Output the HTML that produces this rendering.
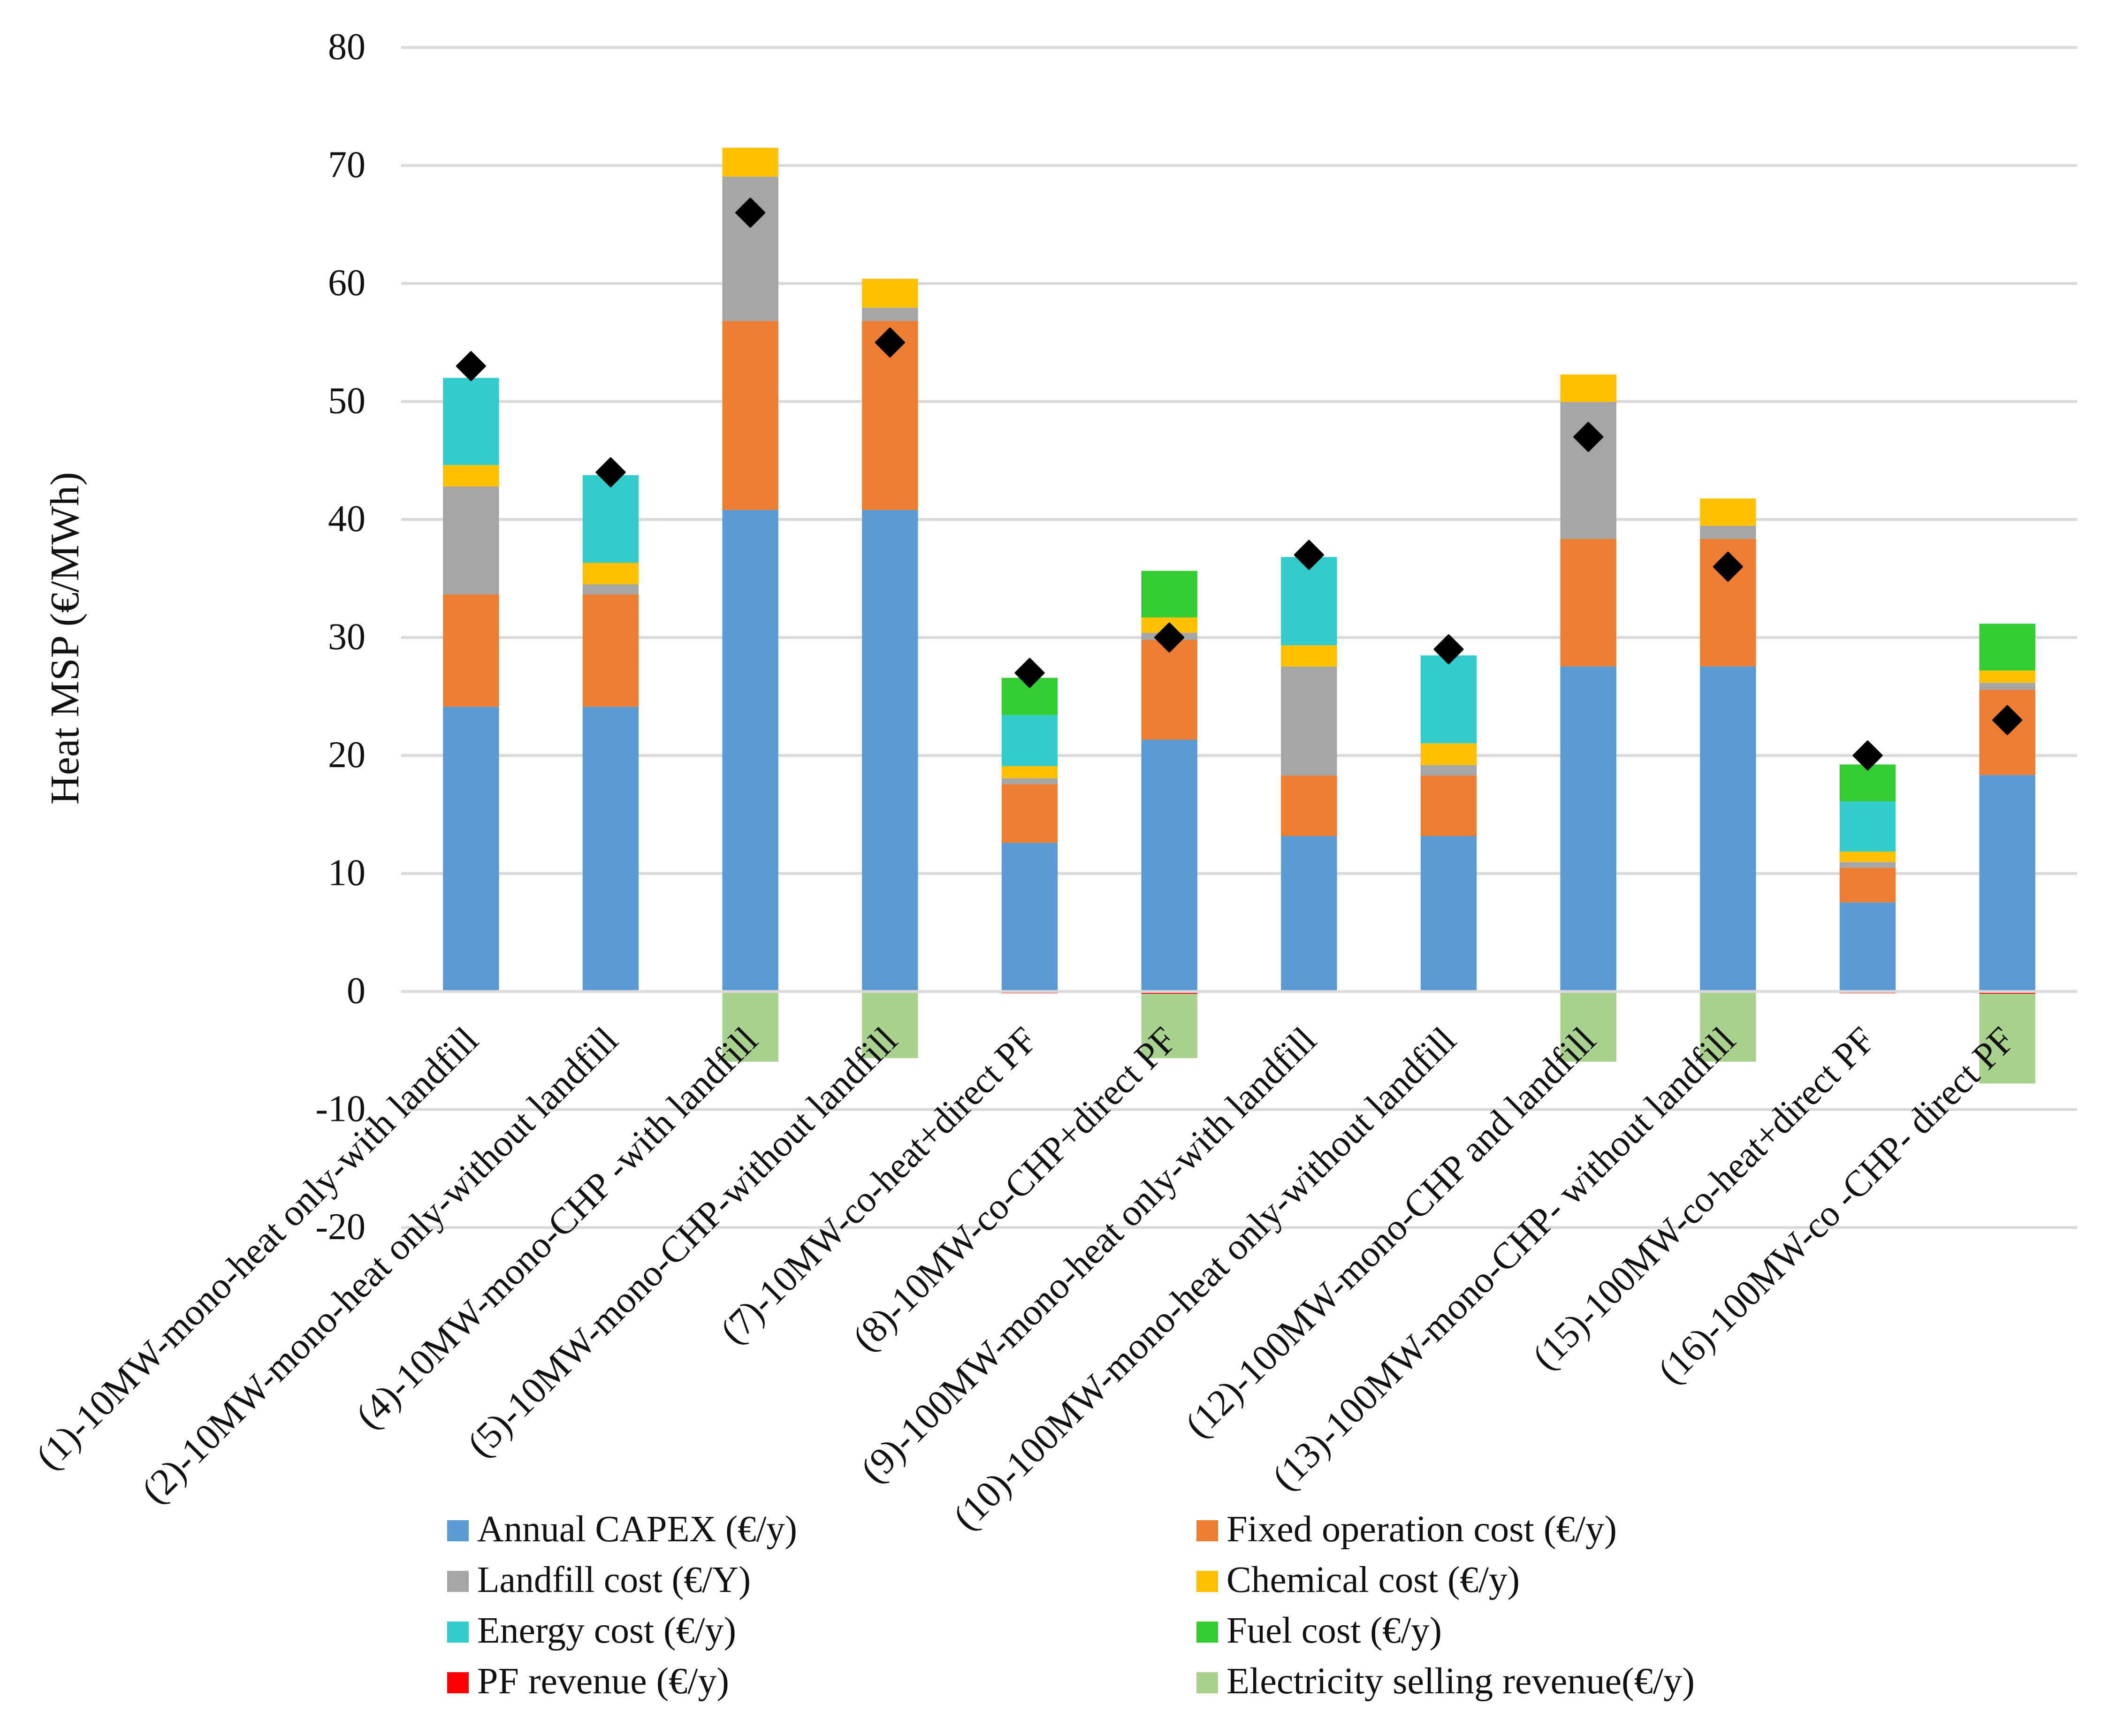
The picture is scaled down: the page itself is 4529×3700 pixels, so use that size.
<!DOCTYPE html>
<html lang="en">
<head>
<meta charset="utf-8">
<title>Heat MSP stacked cost chart</title>
<style>
  html, body { margin: 0; padding: 0; background: #fff; }
  svg { display: block; }
  text { font-family: "Liberation Serif", serif; fill: #111; }
</style>
</head>
<body>
<svg id="chart" xmlns="http://www.w3.org/2000/svg" width="4529" height="3700" viewBox="0 0 4529 3700">
  <rect x="0" y="0" width="4529" height="3700" fill="#ffffff"/>
  <g id="grid"></g>
  <g id="bars"></g>
  <g id="axis"></g>
  <g id="ticks"></g>
  <g id="cats"></g>
  <g id="markers"></g>

  <text transform="translate(167,1715) rotate(-90)" font-size="87" textLength="709" lengthAdjust="spacingAndGlyphs">Heat MSP (€/MWh)</text>

  <g>
    <g>
      <rect x="953" y="3240" width="46" height="45" fill="#5B9BD5"/>
      <text x="1017" y="3285" font-size="79" textLength="682" lengthAdjust="spacingAndGlyphs">Annual CAPEX (€/y)</text>
    </g>
    <g>
      <rect x="2550" y="3240" width="46" height="45" fill="#ED7D31"/>
      <text x="2614" y="3285" font-size="79" textLength="832" lengthAdjust="spacingAndGlyphs">Fixed operation cost (€/y)</text>
    </g>
    <g>
      <rect x="953" y="3348" width="46" height="45" fill="#A5A5A5"/>
      <text x="1017" y="3393" font-size="79" textLength="583" lengthAdjust="spacingAndGlyphs">Landfill cost (€/Y)</text>
    </g>
    <g>
      <rect x="2550" y="3348" width="46" height="45" fill="#FFC000"/>
      <text x="2614" y="3393" font-size="79" textLength="625" lengthAdjust="spacingAndGlyphs">Chemical cost (€/y)</text>
    </g>
    <g>
      <rect x="953" y="3456" width="46" height="45" fill="#33CCCC"/>
      <text x="1017" y="3501" font-size="79" textLength="552" lengthAdjust="spacingAndGlyphs">Energy cost (€/y)</text>
    </g>
    <g>
      <rect x="2550" y="3456" width="46" height="45" fill="#33CC33"/>
      <text x="2614" y="3501" font-size="79" textLength="459" lengthAdjust="spacingAndGlyphs">Fuel cost (€/y)</text>
    </g>
    <g>
      <rect x="953" y="3564" width="46" height="45" fill="#FF0000"/>
      <text x="1017" y="3609" font-size="79" textLength="537" lengthAdjust="spacingAndGlyphs">PF revenue (€/y)</text>
    </g>
    <g>
      <rect x="2550" y="3564" width="46" height="45" fill="#A9D18E"/>
      <text x="2614" y="3609" font-size="79" textLength="998" lengthAdjust="spacingAndGlyphs">Electricity selling revenue(€/y)</text>
    </g>
  </g>
</svg>

<script>
const categories = [
  "(1)-10MW-mono-heat only-with landfill",
  "(2)-10MW-mono-heat only-without landfill",
  "(4)-10MW-mono-CHP -with landfill",
  "(5)-10MW-mono-CHP-without landfill",
  "(7)-10MW-co-heat+direct PF",
  "(8)-10MW-co-CHP+direct PF",
  "(9)-100MW-mono-heat only-with landfill",
  "(10)-100MW-mono-heat only-without landfill",
  "(12)-100MW-mono-CHP and landfill",
  "(13)-100MW-mono-CHP- without landfill",
  "(15)-100MW-co-heat+direct PF",
  "(16)-100MW-co -CHP- direct PF"
];
const annualCapex = [24.13, 24.13, 40.81, 40.81, 12.6, 21.34, 13.17, 13.17, 27.55, 27.55, 7.55, 18.35];
const fixedOperationCost = [9.52, 9.52, 16.01, 16.01, 4.97, 8.45, 5.13, 5.13, 10.8, 10.8, 2.93, 7.22];
const landfillCost = [9.14, 0.85, 12.24, 1.13, 0.5, 0.61, 9.23, 0.89, 11.61, 1.11, 0.49, 0.59];
const chemicalCost = [1.82, 1.83, 2.44, 2.45, 1.03, 1.3, 1.81, 1.84, 2.33, 2.32, 0.89, 1.04];
const energyCost = [7.39, 7.43, 0, 0, 4.33, 0, 7.48, 7.45, 0, 0, 4.25, 0];
const fuelCost = [0, 0, 0, 0, 3.15, 3.95, 0, 0, 0, 0, 3.13, 3.97];
const pfRevenue = [0, 0, 0, 0, -0.15, -0.2, 0, 0, 0, 0, -0.15, -0.2];
const electricityRevenue = [0, 0, -5.95, -5.65, 0, -5.45, 0, 0, -5.95, -5.95, 0, -7.6];
const heatMsp = [53, 44, 66, 55, 27, 30, 37, 29, 47, 36, 20, 23];
const yTickValues = [80, 70, 60, 50, 40, 30, 20, 10, 0, -10, -20];

const seriesNames = ["annual-capex", "fixed-operation-cost", "landfill-cost", "chemical-cost", "energy-cost", "fuel-cost", "pf-revenue", "electricity-revenue"];
const seriesValues = [annualCapex, fixedOperationCost, landfillCost, chemicalCost, energyCost, fuelCost, pfRevenue, electricityRevenue];
const seriesColors = ["#5B9BD5", "#ED7D31", "#A5A5A5", "#FFC000", "#33CCCC", "#33CC33", "#FF0000", "#A9D18E"];

const SVG_NS = "http://www.w3.org/2000/svg";
const plotLeft = 855;
const plotRight = 4427;
const zeroY = 2113.2;
const pxPerUnit = 25.15;
const barWidth = 119.4;
const bandWidth = (plotRight - plotLeft) / categories.length;

function yScale(v) { return zeroY - v * pxPerUnit; }
function xScale(i) { return plotLeft + bandWidth * (i + 0.5); }

function make(tag, attrs) {
  const node = document.createElementNS(SVG_NS, tag);
  for (const k in attrs) node.setAttribute(k, attrs[k]);
  return node;
}

const gridGroup = document.getElementById("grid");
const axisGroup = document.getElementById("axis");
const tickGroup = document.getElementById("ticks");
yTickValues.forEach(function (v) {
  const line = make("rect", { x: plotLeft, y: yScale(v) - 3, width: plotRight - plotLeft, height: 6, fill: "#D9D9D9" });
  
  
  (v === 0 ? axisGroup : gridGroup).appendChild(line);

  const label = make("text", { x: 779, y: yScale(v) + 25, "font-size": 80, "text-anchor": "end" });
  
  
  label.textContent = String(v);
  tickGroup.appendChild(label);
});

const barGroup = document.getElementById("bars");
categories.forEach(function (cat, i) {
  let posBase = 0;
  let negBase = 0;
  seriesValues.forEach(function (vals, s) {
    const v = vals[i];
    if (v === 0) return;
    let top, bottom;
    if (v > 0) {
      bottom = posBase;
      top = posBase + v;
      posBase = top;
    } else {
      top = negBase;
      bottom = negBase + v;
      negBase = bottom;
    }
    const seg = make("rect", {
      x: xScale(i) - barWidth / 2,
      y: yScale(top),
      width: barWidth,
      height: yScale(bottom) - yScale(top),
      fill: seriesColors[s]
    });
    
    
    barGroup.appendChild(seg);
  });
});

const catGroup = document.getElementById("cats");
categories.forEach(function (cat, i) {
  const fit = /direct PF/.test(cat) ? 0.972 : 1;
  const label = make("text", {
    transform: "translate(" + (xScale(i) + 20) + ",2222) rotate(-45) scale(" + fit + ",1)",
    "font-size": 80,
    "text-anchor": "end"
  });
  
  
  label.textContent = cat;
  catGroup.appendChild(label);
});

const markerGroup = document.getElementById("markers");
const markerHalf = 30;
heatMsp.forEach(function (v, i) {
  const cx = xScale(i);
  const cy = yScale(v);
  const d = "M" + cx + " " + (cy - markerHalf) + "L" + (cx + markerHalf) + " " + cy + "L" + cx + " " + (cy + markerHalf) + "L" + (cx - markerHalf) + " " + cy + "Z";
  const marker = make("path", { d: d, fill: "#000", stroke: "#000", "stroke-width": 4, "stroke-linejoin": "round" });
  
  
  markerGroup.appendChild(marker);
});
</script>
</body>
</html>
